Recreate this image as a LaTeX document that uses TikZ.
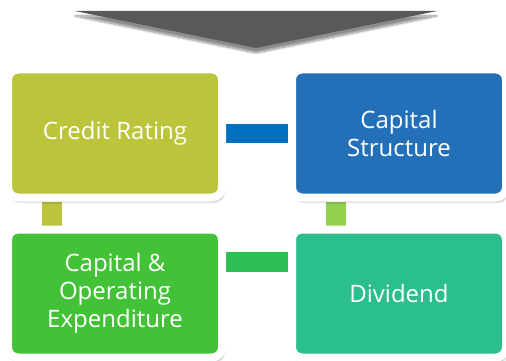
\documentclass[tikz,border=0pt]{standalone}
\usepackage{fontspec}
\setmainfont{Open Sans}
\usetikzlibrary{shadows.blur,backgrounds,calc}
\definecolor{cOlive}{HTML}{BCC43C}
\definecolor{cBlue}{HTML}{2470B8}
\definecolor{cGreen}{HTML}{43C237}
\definecolor{cTeal}{HTML}{2BBE8E}
\definecolor{cBar}{HTML}{0070C0}
\definecolor{cLime}{HTML}{92D050}
\definecolor{cBarG}{HTML}{2DBE55}
\definecolor{cArrow}{HTML}{595959}
\tikzset{
  card/.style={draw=white, line width=8pt, rounded corners=10pt, minimum width=214pt, minimum height=128pt,
    text=white, align=center, font=\fontsize{24}{28}\selectfont,
    blur shadow={shadow xshift=2pt, shadow yshift=-4pt, shadow blur steps=8, shadow opacity=35}},
  link/.style={line width=19pt},
}
\begin{document}
\begin{tikzpicture}[x=1pt,y=-1pt]
\useasboundingbox (0,0) rectangle (506,361);
\path[fill=cArrow, blur shadow={shadow xshift=0pt, shadow yshift=-5pt, shadow blur steps=10, shadow opacity=45}]
  (75,11) -- (437,11) -- (256,48) -- cycle;
\node[card, fill=cOlive] (tl) at (115,133.5) {Credit Rating};
\node[card, fill=cBlue] (tr) at (399,133.5) {Capital\\Structure};
\node[card, fill=cGreen] (bl) at (115,293.5) {Capital \&\\Operating\\Expenditure};
\node[card, fill=cTeal] (br) at (399,293.5) {Dividend};
\begin{pgfonlayer}{background}
\draw[link, cBar] (tl.east) -- (tr.west);
\draw[link, cOlive, line width=20pt] ([xshift=-63pt]tl.south) -- ([xshift=-63pt]bl.north);
\draw[link, cLime, line width=20pt] ([xshift=-63pt]tr.south) -- ([xshift=-63pt]br.north);
\draw[link, cBarG, line width=20pt] ([yshift=31.5pt]bl.east) -- ([yshift=31.5pt]br.west);
\end{pgfonlayer}
\end{tikzpicture}
\end{document}
